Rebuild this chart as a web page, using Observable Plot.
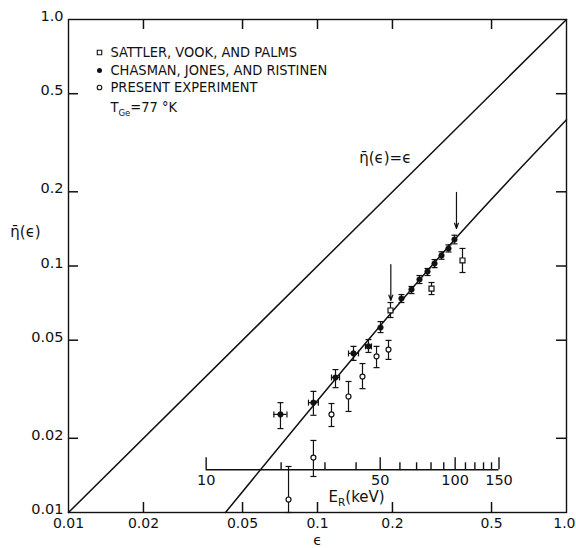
<!DOCTYPE html>
<html><head><meta charset="utf-8">
<script src="https://cdn.jsdelivr.net/npm/d3@7"></script>
<script src="https://cdn.jsdelivr.net/npm/@observablehq/plot@0.6"></script>
<style>
html,body{margin:0;padding:0;background:#fff;}
#chart svg{display:block;}
</style></head><body><div id="chart"></div>
<script>
// ---- axis ticks ----
const xTicks = [0.01, 0.02, 0.05, 0.1, 0.2, 0.5, 1.0];
const xTickLabels = ["0.01", "0.02", "0.05", "0.1", "0.2", "0.5", "1.0"];
const yTicks = [0.01, 0.02, 0.05, 0.1, 0.2, 0.5, 1.0];
const yTickLabels = ["0.01", "0.02", "0.05", "0.1", "0.2", "0.5", "1.0"];
const innerTicks = [0.02, 0.05, 0.1, 0.2, 0.5];

// ---- recoil energy inset axis (keV) ----
const erTicks = [10, 20, 30, 40, 50, 60, 70, 80, 90, 100, 110, 120, 130, 140, 150];
const erMajor = [10, 50, 100, 150];
const erLabels = ["10", "50", "100", "150"];
const ER_PER_EPS = 280;      // keV per unit of epsilon
const ER_AXIS_ETA = 0.0149;  // eta level where the inset axis sits

// ---- Chasman, Jones, and Ristinen (filled) ----
const chasmanEps   = [0.0710, 0.0963, 0.1181, 0.1395, 0.1602, 0.1791, 0.2174, 0.2385, 0.2568, 0.2766, 0.2951, 0.3148, 0.3358, 0.3549];
const chasmanEta   = [0.0250, 0.0279, 0.0353, 0.0442, 0.0472, 0.0563, 0.0738, 0.0803, 0.0882, 0.0950, 0.1023, 0.1103, 0.1178, 0.1281];
const chasmanEtaLo = [0.0219, 0.0248, 0.0321, 0.0414, 0.0446, 0.0537, 0.0711, 0.0773, 0.0849, 0.0915, 0.0985, 0.1065, 0.1140, 0.1230];
const chasmanEtaHi = [0.0279, 0.0310, 0.0380, 0.0472, 0.0503, 0.0595, 0.0766, 0.0826, 0.0915, 0.0977, 0.1062, 0.1142, 0.1218, 0.1333];
const chasmanEpsLo = [0.0668, 0.0920, 0.1138, 0.1332, 0.1558, null, null, null, null, null, null, null, null, null];
const chasmanEpsHi = [0.0754, 0.1008, 0.1226, 0.1461, 0.1647, null, null, null, null, null, null, null, null, null];

// ---- Present experiment (open circles) ----
const presentEps   = [0.0765, 0.0963, 0.1138, 0.1332, 0.1516, 0.1726, 0.1928];
const presentEta   = [0.01129, 0.01671, 0.0250, 0.02955, 0.0356, 0.0430, 0.0458];
const presentEtaLo = [0.0100, 0.0140, 0.02233, 0.0257, 0.0318, 0.0387, 0.0418];
const presentEtaHi = [0.01537, 0.0196, 0.02768, 0.0340, 0.0402, 0.0472, 0.0499];

// ---- Sattler, Vook, and Palms (open squares) ----
const sattlerEps   = [0.1964, 0.2870, 0.3822];
const sattlerEta   = [0.0660, 0.0810, 0.1053];
const sattlerEtaLo = [0.0618, 0.0766, 0.0941];
const sattlerEtaHi = [0.0711, 0.0857, 0.1178];

// ---- arrows ----
const arrowEps  = [0.197, 0.3615];
const arrowFrom = [0.1014, 0.1988];
const arrowTo   = [0.0725, 0.142];

// ---- curves ----
const identityEps = [0.01, 1.0];
const identityEta = [0.01, 1.0];
const theoryEps = [0.0427, 0.1461, 0.3615, 1.0];
const theoryEta = [0.0100, 0.0450, 0.1305, 0.392];

// ---- texts ----
const legendLabels = ["SATTLER, VOOK, AND PALMS", "CHASMAN, JONES, AND RISTINEN", "PRESENT EXPERIMENT"];
const tempLabel = "TGe=77 °K";
const identityLabel = "η̄(ϵ)=ϵ";
const identityLabelPos = [0.147, 0.275];
const yLabel = "η̄(ϵ)";
const yLabelEta = 0.137;
const xLabel = "ϵ";
const erTitle = "ER(keV)";
const erTitleEps = 0.1107;

// ---- build tables ----
const chasman = chasmanEps.map((e, i) => ({eps: e, eta: chasmanEta[i], lo: chasmanEtaLo[i], hi: chasmanEtaHi[i], elo: chasmanEpsLo[i], ehi: chasmanEpsHi[i]}));
const chasmanX = chasman.filter(d => d.elo != null);
const present = presentEps.map((e, i) => ({eps: e, eta: presentEta[i], lo: presentEtaLo[i], hi: presentEtaHi[i]}));
const sattler = sattlerEps.map((e, i) => ({eps: e, eta: sattlerEta[i], lo: sattlerEtaLo[i], hi: sattlerEtaHi[i]}));
const allErr = [...chasman, ...present, ...sattler];
const arrows = arrowEps.map((e, i) => ({eps: e, from: arrowFrom[i], to: arrowTo[i]}));
const identity = identityEps.map((e, i) => ({eps: e, eta: identityEta[i]}));
const theory = theoryEps.map((e, i) => ({eps: e, eta: theoryEta[i]}));

// ---- layout ----
const W = 576, H = 548, ML = 68, MR = 10, MT = 19, MB = 36;
const plotW = W - ML - MR, plotH = H - MT - MB;
const TICK = 10;                    // frame tick length (px)
const pxPerDecadeY = plotH / 2;     // y domain spans two decades
const up = (eta, px) => eta * Math.pow(10, px / pxPerDecadeY);  // eta that lies px above

// error bar caps as small symbols
const len = s => Math.sqrt(s / Math.PI);
const hCap = {draw(c, s) { const l = len(s); c.moveTo(-l, 0); c.lineTo(l, 0); }};
const vCap = {draw(c, s) { const l = len(s); c.moveTo(0, -l); c.lineTo(0, l); }};

const INK = "#111";
const FONT = "DejaVu Sans";
const LEG_FONT = "DejaVu Sans Condensed, DejaVu Sans";
const tickStyle = {stroke: INK, strokeWidth: 1.5};
const legendRows = [33, 51, 68, 88];

const chart = Plot.plot({
  width: W,
  height: H,
  marginLeft: ML,
  marginRight: MR,
  marginTop: MT,
  marginBottom: MB,
  style: {fontFamily: FONT, fontSize: "15px", background: "white", color: INK},
  x: {type: "log", domain: [0.01, 1], axis: null},
  y: {type: "log", domain: [0.01, 1], axis: null},
  marks: [
    Plot.frame({stroke: INK, strokeWidth: 1.4}),
    // inward ticks on all four sides
    Plot.tickX(innerTicks, {x: d => d, insetTop: plotH - TICK, ...tickStyle}),
    Plot.tickX(innerTicks, {x: d => d, insetBottom: plotH - TICK, ...tickStyle}),
    Plot.tickY(innerTicks, {y: d => d, insetRight: plotW - TICK, ...tickStyle}),
    Plot.tickY(innerTicks, {y: d => d, insetLeft: plotW - TICK, ...tickStyle}),
    // tick labels
    Plot.text(xTicks.slice(0, -1), {x: d => d, frameAnchor: "bottom", lineAnchor: "middle", dy: 11, text: (d, i) => xTickLabels[i], fontSize: 14, fill: INK}),
    Plot.text(xTicks.slice(-1), {x: d => d, frameAnchor: "bottom", lineAnchor: "middle", dy: 11, dx: 9, textAnchor: "end", text: () => xTickLabels[xTickLabels.length - 1], fontSize: 14, fill: INK}),
    Plot.text(yTicks, {y: d => d, frameAnchor: "left", lineAnchor: "middle", dx: -5, dy: -3, textAnchor: "end", text: (d, i) => yTickLabels[i], fontSize: 14.5, fill: INK}),
    // axis titles
    Plot.text([yLabel], {x: () => 0.01, y: () => yLabelEta, dx: -43, lineAnchor: "middle", text: d => d, fontSize: 15, fill: INK}),
    Plot.text([xLabel], {x: () => 0.1, frameAnchor: "bottom", lineAnchor: "middle", dy: 28, text: d => d, fontSize: 14, fill: INK}),
    // curves
    Plot.line(identity, {x: "eps", y: "eta", stroke: INK, strokeWidth: 1.5}),
    Plot.line(theory, {x: "eps", y: "eta", stroke: INK, strokeWidth: 1.5, curve: "monotone-x"}),
    Plot.text([identityLabel], {x: () => identityLabelPos[0], y: () => identityLabelPos[1], lineAnchor: "middle", text: d => d, textAnchor: "start", fontSize: 15, fill: INK}),
    // recoil-energy inset axis
    Plot.ruleY([ER_AXIS_ETA], {y: d => d, x1: () => erTicks[0] / ER_PER_EPS, x2: () => erTicks[erTicks.length - 1] / ER_PER_EPS, stroke: INK, strokeWidth: 1.4}),
    Plot.ruleX(erTicks, {x: e => e / ER_PER_EPS, y1: () => ER_AXIS_ETA, y2: e => up(ER_AXIS_ETA, erMajor.includes(e) ? 12 : 7), stroke: INK, strokeWidth: 1.4}),
    Plot.text(erMajor, {x: e => e / ER_PER_EPS, y: () => ER_AXIS_ETA, lineAnchor: "middle", dy: 11, text: (d, i) => erLabels[i], fontSize: 14.5, fill: INK}),
    Plot.text([erTitle], {x: () => erTitleEps, y: () => ER_AXIS_ETA, lineAnchor: "middle", dy: 27, textAnchor: "start", text: d => d, fontSize: 15, fill: INK}),
    // arrows
    Plot.arrow(arrows, {x: "eps", y1: "from", y2: "to", stroke: INK, strokeWidth: 1.2, headLength: 7, headAngle: 40}),
    // error bars
    Plot.ruleX(allErr, {x: "eps", y1: "lo", y2: "hi", stroke: INK, strokeWidth: 1.2}),
    Plot.dot(allErr, {x: "eps", y: "lo", symbol: hCap, r: 3, stroke: INK, fill: "none", strokeWidth: 1.2}),
    Plot.dot(allErr, {x: "eps", y: "hi", symbol: hCap, r: 3, stroke: INK, fill: "none", strokeWidth: 1.2}),
    Plot.ruleY(chasmanX, {y: "eta", x1: "elo", x2: "ehi", stroke: INK, strokeWidth: 1.2}),
    Plot.dot(chasmanX, {x: "elo", y: "eta", symbol: vCap, r: 3, stroke: INK, fill: "none", strokeWidth: 1.2}),
    Plot.dot(chasmanX, {x: "ehi", y: "eta", symbol: vCap, r: 3, stroke: INK, fill: "none", strokeWidth: 1.2}),
    // markers
    Plot.dot(chasman, {x: "eps", y: "eta", r: 2.8, fill: INK, stroke: INK, strokeWidth: 0.5}),
    Plot.dot(present, {x: "eps", y: "eta", r: 2.5, fill: "white", stroke: INK, strokeWidth: 1.2}),
    Plot.dot(sattler, {x: "eps", y: "eta", symbol: "square", r: 2.8, fill: "white", stroke: INK, strokeWidth: 1.2}),
    // legend
    Plot.dot([0], {frameAnchor: "top-left", dx: 31, dy: legendRows[0], symbol: "square", r: 2.5, fill: "white", stroke: INK, strokeWidth: 1.1}),
    Plot.dot([0], {frameAnchor: "top-left", dx: 31, dy: legendRows[1], r: 2.5, fill: INK}),
    Plot.dot([0], {frameAnchor: "top-left", dx: 31, dy: legendRows[2], r: 2.3, fill: "white", stroke: INK, strokeWidth: 1.1}),
    ...legendLabels.map((lab, i) => Plot.text([lab], {frameAnchor: "top-left", lineAnchor: "middle", dx: 42, dy: legendRows[i], text: d => d, textAnchor: "start", fontSize: 14.5, fill: INK, fontFamily: LEG_FONT})),
    Plot.text([tempLabel], {frameAnchor: "top-left", lineAnchor: "middle", dx: 42, dy: legendRows[3], text: d => d, textAnchor: "start", fontSize: 14.5, fill: INK, fontFamily: LEG_FONT}),
  ]
});

// subscripts: T_Ge and E_R
function subscriptify(svg, whole, head, sub, tail, subSize) {
  svg.querySelectorAll("text").forEach(t => {
    if (t.textContent === whole) {
      const ns = "http://www.w3.org/2000/svg";
      while (t.firstChild) t.removeChild(t.firstChild);
      t.appendChild(document.createTextNode(head));
      const s = document.createElementNS(ns, "tspan");
      s.setAttribute("dy", "4");
      s.setAttribute("font-size", subSize);
      s.textContent = sub;
      t.appendChild(s);
      const r = document.createElementNS(ns, "tspan");
      r.setAttribute("dy", "-4");
      r.textContent = tail;
      t.appendChild(r);
    }
  });
}
subscriptify(chart, tempLabel, "T", "Ge", "=77 °K", "9.5");
subscriptify(chart, erTitle, "E", "R", "(keV)", "10.5");
document.getElementById("chart").appendChild(chart);
</script></body></html>
